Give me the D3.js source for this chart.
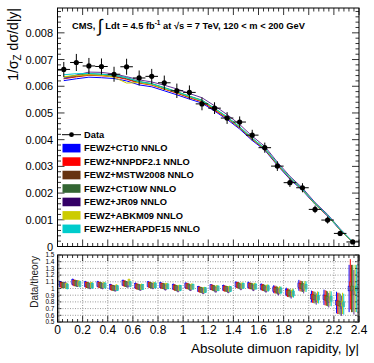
<!DOCTYPE html>
<html>
<head>
<meta charset="utf-8">
<script src="https://cdn.jsdelivr.net/npm/d3@7"></script>
<style>
  body { margin: 0; background: #fff; }
  svg { display: block; font-family: "Liberation Sans", Arial, sans-serif; }
</style>
</head>
<body>
<svg id="chart" width="374" height="363"></svg>
<script>
// rapidity bin centres
const binCenters = [0.05,0.15,0.25,0.35,0.45,0.55,0.65,0.75,0.85,0.95,1.05,1.15,1.25,1.35,1.45,1.55,1.65,1.75,1.85,1.95,2.05,2.15,2.25,2.35];

// measured 1/sigma dsigma/d|y|
const dataVals = [0.00663,0.00689,0.00676,0.00674,0.00645,0.00673,0.00631,0.00637,0.00613,0.00583,0.00577,0.00534,0.00518,0.00481,0.00466,0.00417,0.00370,0.00301,0.00239,0.00220,0.00139,0.00099,0.00049,0.00017];
const dataErr  = [0.00028,0.00032,0.00030,0.00030,0.00028,0.00030,0.00028,0.00028,0.00027,0.00027,0.00026,0.00024,0.00022,0.00022,0.00021,0.00020,0.00019,0.00018,0.00016,0.00017,0.00014,0.00013,0.00010,0.00006];

// FEWZ NNLO predictions
const ct10     = [0.00621,0.00628,0.00634,0.00632,0.00629,0.00620,0.00605,0.00598,0.00583,0.00568,0.00552,0.00537,0.00507,0.00476,0.00440,0.00397,0.00361,0.00304,0.00252,0.00210,0.00158,0.00114,0.00062,0.00017];
const nnpdf21  = [0.00628,0.00635,0.00641,0.00639,0.00636,0.00626,0.00612,0.00604,0.00589,0.00574,0.00557,0.00542,0.00510,0.00481,0.00444,0.00401,0.00364,0.00306,0.00255,0.00212,0.00159,0.00115,0.00063,0.00016];
const mstw2008 = [0.00630,0.00637,0.00643,0.00641,0.00638,0.00628,0.00614,0.00606,0.00591,0.00576,0.00559,0.00544,0.00514,0.00482,0.00445,0.00402,0.00365,0.00307,0.00256,0.00213,0.00160,0.00116,0.00063,0.00017];
const ct10w    = [0.00634,0.00641,0.00647,0.00645,0.00642,0.00632,0.00618,0.00610,0.00595,0.00580,0.00563,0.00548,0.00518,0.00485,0.00448,0.00405,0.00368,0.00310,0.00257,0.00214,0.00161,0.00117,0.00064,0.00017];
const jr09     = [0.00628,0.00642,0.00653,0.00652,0.00646,0.00636,0.00624,0.00616,0.00604,0.00590,0.00573,0.00557,0.00527,0.00494,0.00457,0.00413,0.00375,0.00316,0.00263,0.00219,0.00165,0.00120,0.00066,0.00018];
const abkm09   = [0.00636,0.00640,0.00643,0.00641,0.00634,0.00612,0.00614,0.00606,0.00591,0.00577,0.00560,0.00545,0.00515,0.00483,0.00446,0.00403,0.00366,0.00308,0.00256,0.00213,0.00160,0.00116,0.00063,0.00017];
const herapdf  = [0.00643,0.00647,0.00648,0.00645,0.00641,0.00632,0.00617,0.00609,0.00594,0.00579,0.00562,0.00547,0.00517,0.00485,0.00448,0.00405,0.00368,0.00310,0.00258,0.00214,0.00161,0.00117,0.00064,0.00017];

const theoryNames = ["FEWZ+CT10 NNLO","FEWZ+NNPDF2.1 NNLO","FEWZ+MSTW2008 NNLO","FEWZ+CT10W NNLO","FEWZ+JR09 NNLO","FEWZ+ABKM09 NNLO","FEWZ+HERAPDF15 NNLO"];
const theoryColors = ["#0000ff","#ff0000","#663311","#336633","#330066","#cccc00","#00cccc"];
const theoryLineColors = ["#0000ff","#ff0000","#884411","#338833","#663399","#cccc00","#00cccc"];
const theories = [ct10, nnpdf21, mstw2008, ct10w, jr09, abkm09, herapdf];

const topTicks = [0,0.001,0.002,0.003,0.004,0.005,0.006,0.007,0.008];
const ratioTicks = [0.5,0.6,0.7,0.8,0.9,1,1.1,1.2,1.3,1.4,1.5];
const xTicks = [0,0.2,0.4,0.6,0.8,1,1.2,1.4,1.6,1.8,2,2.2,2.4];

const svg = d3.select("#chart");
const L = 57.5, R = 359;
const x = d3.scaleLinear().domain([0, 2.4]).range([L, R]);
const yTop = d3.scaleLinear().domain([0, 0.00893]).range([246.5, 8]);
const yRat = d3.scaleLinear().domain([0.5, 1.5]).range([322, 255]);

// ---- top panel ----
const topG = svg.append("g");

// ticks (ROOT style, inside frame on all sides)
const xMinor = d3.range(0, 2.4001, 0.04);
const xMajorSet = new Set(xTicks.map(d => d.toFixed(2)));
function drawXTicks(g, yPos, dir, big, small) {
  g.selectAll(null).data(xMinor).enter().append("line")
    .attr("x1", d => x(d)).attr("x2", d => x(d))
    .attr("y1", yPos)
    .attr("y2", d => yPos + dir * (xMajorSet.has(d.toFixed(2)) ? big : small))
    .attr("stroke", "#000").attr("stroke-width", 0.8);
}
drawXTicks(topG, yTop(0), -1, 7, 3.5);
drawXTicks(topG, 8, 1, 7, 3.5);

const yMinor = d3.range(0, 0.00893, 0.0002);
[L, R].forEach((xp, i) => {
  const dir = i === 0 ? 1 : -1;
  topG.selectAll(null).data(yMinor).enter().append("line")
    .attr("x1", xp)
    .attr("x2", d => xp + dir * (Math.abs(d / 0.001 - Math.round(d / 0.001)) < 1e-6 ? 7 : 3.5))
    .attr("y1", d => yTop(d)).attr("y2", d => yTop(d))
    .attr("stroke", "#000").attr("stroke-width", 0.8);
});

topG.append("g").selectAll("text").data(topTicks).enter().append("text")
  .attr("x", 53).attr("y", d => yTop(d) + 4)
  .attr("text-anchor", "end").attr("font-size", 11)
  .text(d => d === 0 ? "0" : d3.format(".3f")(d));

// theory curves
const line = d3.line().x((d, i) => x(binCenters[i])).y(d => yTop(d));
theories.forEach((t, k) => {
  topG.append("path").datum(t)
    .attr("d", line)
    .attr("fill", "none")
    .attr("stroke", theoryLineColors[k])
    .attr("stroke-width", 1);
});

// data points
const dg = topG.append("g");
binCenters.forEach((c, i) => {
  dg.append("line")
    .attr("x1", x(c - 0.05)).attr("x2", x(c + 0.05))
    .attr("y1", yTop(dataVals[i])).attr("y2", yTop(dataVals[i]))
    .attr("stroke", "#000").attr("stroke-width", 1);
  dg.append("line")
    .attr("x1", x(c)).attr("x2", x(c))
    .attr("y1", yTop(dataVals[i] - dataErr[i])).attr("y2", yTop(dataVals[i] + dataErr[i]))
    .attr("stroke", "#000").attr("stroke-width", 1);
  dg.append("circle")
    .attr("cx", x(c)).attr("cy", yTop(dataVals[i])).attr("r", 2.6)
    .attr("fill", "#000");
});

topG.append("rect")
  .attr("x", L).attr("y", 8).attr("width", R - L).attr("height", yTop(0) - 8)
  .attr("fill", "none").attr("stroke", "#000").attr("stroke-width", 1);

// CMS label
const cms = topG.append("text").attr("x", 72).attr("y", 29)
  .attr("font-size", 9.3).attr("font-weight", "bold");
cms.append("tspan").text("CMS, ");
cms.append("tspan").attr("font-size", 18).attr("font-weight", "normal").attr("dy", 3).text("\u222B");
cms.append("tspan").attr("dy", -3).text(" Ldt = 4.5 fb");
cms.append("tspan").attr("font-size", 6.5).attr("dy", -4).text("-1");
cms.append("tspan").attr("dy", 4).text(" at \u221As = 7 TeV, 120 < m < 200 GeV");

// legend
const leg = topG.append("g");
const rowY = d => 134.7 + d * 13.45;
leg.append("line").attr("x1", 62).attr("x2", 81).attr("y1", rowY(0)).attr("y2", rowY(0))
  .attr("stroke", "#000").attr("stroke-width", 1);
leg.append("circle").attr("cx", 71.5).attr("cy", rowY(0)).attr("r", 2.4).attr("fill", "#000");
leg.append("text").attr("x", 84).attr("y", rowY(0) + 3.3)
  .attr("font-size", 9.3).attr("font-weight", "bold").text("Data");
theoryNames.forEach((n, k) => {
  leg.append("rect").attr("x", 62.5).attr("y", rowY(k + 1) - 4.3)
    .attr("width", 18).attr("height", 8.6).attr("fill", theoryColors[k]);
  leg.append("text").attr("x", 84).attr("y", rowY(k + 1) + 3.3)
    .attr("font-size", 9.3).attr("font-weight", "bold").text(n);
});

// y title
const yt = svg.append("text")
  .attr("transform", "translate(18,8) rotate(-90)")
  .attr("text-anchor", "end").attr("font-size", 14);
yt.append("tspan").text("1/\u03C3");
yt.append("tspan").attr("font-size", 10).attr("dy", 3).text("Z");
yt.append("tspan").attr("dy", -3).text(" d\u03C3/d|y|");

// ---- ratio panel ----
const bot = svg.append("g");
svg.append("clipPath").attr("id", "rclip").append("rect")
  .attr("x", L).attr("y", 255).attr("width", R - L).attr("height", 67);

// grid
bot.selectAll(null).data(ratioTicks.slice(1, -1)).enter().append("line")
  .attr("x1", L).attr("x2", R).attr("y1", d => yRat(d)).attr("y2", d => yRat(d))
  .attr("stroke", "#555").attr("stroke-width", 0.6).attr("stroke-dasharray", "1,1.5");
bot.selectAll(null).data(xTicks.slice(1, -1)).enter().append("line")
  .attr("x1", d => x(d)).attr("x2", d => x(d)).attr("y1", 255).attr("y2", 322)
  .attr("stroke", "#555").attr("stroke-width", 0.6).attr("stroke-dasharray", "1,1.5");

// ratio markers
const rg = bot.append("g").attr("clip-path", "url(#rclip)");
binCenters.forEach((c, i) => {
  theories.forEach((t, k) => {
    const r = dataVals[i] / t[i];
    const e = dataErr[i] / t[i];
    const xc = x(c) + (k - 3) * 1.2;
    rg.append("line")
      .attr("x1", xc).attr("x2", xc)
      .attr("y1", yRat(r - e)).attr("y2", yRat(r + e))
      .attr("stroke", theoryLineColors[k]).attr("stroke-width", 1);
    rg.append("rect")
      .attr("x", xc - 1).attr("width", 2)
      .attr("y", yRat(r + 0.035)).attr("height", yRat(r - 0.035) - yRat(r + 0.035))
      .attr("fill", "#8a8a70").attr("fill-opacity", 0.55)
      .attr("stroke", theoryLineColors[k]).attr("stroke-width", 0.6);
  });
});

// ratio ticks
drawXTicks(bot, 322, -1, 6, 3);
drawXTicks(bot, 255, 1, 6, 3);
const rMinor = d3.range(0.5, 1.5001, 0.02);
[L, R].forEach((xp, i) => {
  const dir = i === 0 ? 1 : -1;
  bot.selectAll(null).data(rMinor).enter().append("line")
    .attr("x1", xp)
    .attr("x2", d => xp + dir * (Math.abs(d * 10 - Math.round(d * 10)) < 1e-6 ? 4 : 2))
    .attr("y1", d => yRat(d)).attr("y2", d => yRat(d))
    .attr("stroke", "#000").attr("stroke-width", 0.6);
});
bot.append("rect")
  .attr("x", L).attr("y", 255).attr("width", R - L).attr("height", 67)
  .attr("fill", "none").attr("stroke", "#000").attr("stroke-width", 1);

bot.selectAll(null).data(ratioTicks).enter().append("text")
  .attr("x", 54.5).attr("y", d => yRat(d) + 2.3)
  .attr("text-anchor", "end").attr("font-size", 6.5)
  .text(d => d3.format("")(d));

bot.selectAll(null).data(xTicks).enter().append("text")
  .attr("x", d => x(d)).attr("y", 334)
  .attr("text-anchor", "middle").attr("font-size", 12)
  .text(d => d3.format("")(d));

svg.append("text")
  .attr("transform", "translate(38,256) rotate(-90)")
  .attr("text-anchor", "end").attr("font-size", 10).attr("fill", "#222")
  .text("Data/theory");

svg.append("text")
  .attr("x", R).attr("y", 353)
  .attr("text-anchor", "end").attr("font-size", 13.5)
  .text("Absolute dimuon rapidity, |y|");
</script>
</body>
</html>
